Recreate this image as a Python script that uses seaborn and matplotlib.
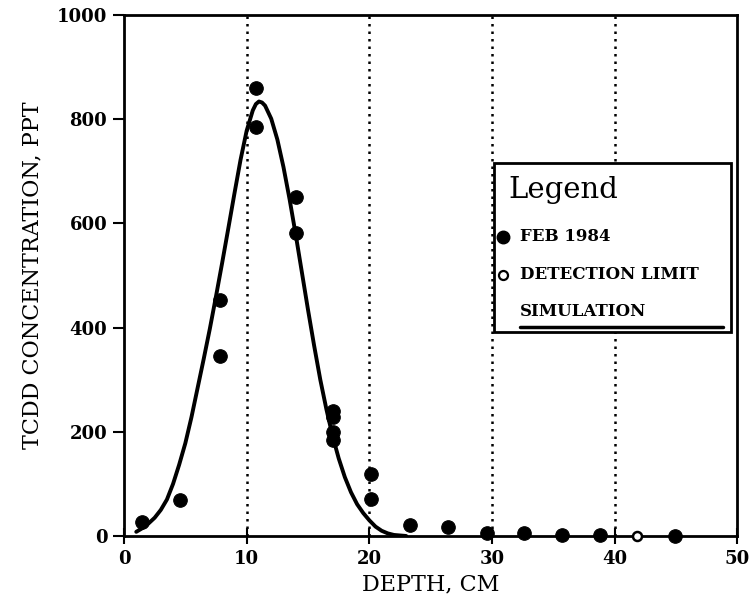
import seaborn as sns
import pandas as pd
import numpy as np
import matplotlib.pyplot as plt
from matplotlib.patches import Rectangle

# Measured TCDD, Feb 1984
feb_depth = [1.5, 4.6, 7.8, 7.8, 10.8, 10.8, 14.0, 14.0, 17.0, 17.0, 17.0, 17.0,
             20.1, 20.1, 23.3, 26.4, 29.6, 32.6, 35.7, 38.8, 44.9]
feb_conc = [27, 69, 452, 346, 860, 785, 650, 581, 240, 228, 200, 185,
            119, 71, 21, 18, 6, 5, 2, 2, 0]

# Detection limit sample
det_depth = [41.8]
det_conc = [0]

# Simulation curve
sim_depth = [1.0, 1.5, 2.0, 2.5, 3.0, 3.5, 4.0, 4.5, 5.0, 5.5, 6.0, 6.5, 7.0, 7.5,
             8.0, 8.5, 9.0, 9.5, 10.0, 10.5, 10.75, 11.0, 11.25, 11.5, 12.0, 12.5,
             13.0, 13.5, 14.0, 14.5, 15.0, 15.5, 16.0, 16.5, 17.0, 17.5, 18.0,
             18.5, 19.0, 19.5, 20.0, 20.5, 21.0, 21.5, 22.0, 22.5, 23.0]
sim_conc = [8, 15, 24, 35, 50, 70, 100, 137, 178, 228, 284, 340, 398, 460,
            524, 590, 657, 722, 778, 817, 829, 834, 832, 826, 801, 761,
            708, 646, 578, 506, 434, 365, 300, 243, 192, 149, 113,
            84, 61, 44, 30, 18, 10, 5, 2, 1, 0]

feb = pd.DataFrame({"depth": feb_depth, "conc": feb_conc})
det = pd.DataFrame({"depth": det_depth, "conc": det_conc})
sim = pd.DataFrame({"depth": sim_depth, "conc": sim_conc})

sns.set_style("ticks")
plt.rcParams['font.family'] = ['DejaVu Serif']
plt.rcParams['text.color'] = 'black'
plt.rcParams['axes.labelcolor'] = 'black'
plt.rcParams['xtick.color'] = 'black'
plt.rcParams['ytick.color'] = 'black'

fig = plt.figure(figsize=(7.5, 6.12), dpi=100)
ax = fig.add_axes([0.1653, 0.1242, 0.8180, 0.8513])

for x in [10, 20, 30, 40]:
    ax.axvline(x, color='black', linestyle=(0, (1, 2)), linewidth=1.8, zorder=1)

sns.lineplot(data=sim, x="depth", y="conc", ax=ax, color='black', linewidth=2.8,
             zorder=3, solid_joinstyle='round', solid_capstyle='round')
sns.scatterplot(data=feb, x="depth", y="conc", ax=ax, color='black', s=95,
                edgecolor='black', zorder=4, clip_on=False)
sns.scatterplot(data=det, x="depth", y="conc", ax=ax, facecolor='white', s=42,
                edgecolor='black', linewidth=1.8, zorder=4, clip_on=False)

ax.set_xlim(0, 50)
ax.set_ylim(0, 1000)
ax.set_xticks([0, 10, 20, 30, 40, 50])
ax.set_yticks([0, 200, 400, 600, 800, 1000])
ax.tick_params(axis='x', direction='inout', length=12, width=1.5, labelsize=13, pad=4)
ax.tick_params(axis='y', direction='out', length=8, width=1.5, labelsize=13, pad=4)
for lab in ax.get_xticklabels() + ax.get_yticklabels():
    lab.set_fontweight('bold')
for sp in ax.spines.values():
    sp.set_linewidth(2)
    sp.set_color('black')

ax.set_xlabel("DEPTH, CM", fontsize=16, labelpad=4)
ax.set_ylabel("TCDD CONCENTRATION, PPT", fontsize=16, labelpad=10)

# Legend box drawn by hand
ax.add_patch(Rectangle((0.603, 0.392), 0.386, 0.324, transform=ax.transAxes,
                       facecolor='white', edgecolor='black', linewidth=2, zorder=5))
ax.text(0.627, 0.665, "Legend", transform=ax.transAxes, fontsize=21,
        va='center', ha='left', zorder=6)
ax.plot([0.618], [0.574], transform=ax.transAxes, marker='o', markersize=9,
        color='black', zorder=6, clip_on=False)
ax.text(0.645, 0.574, "FEB 1984", transform=ax.transAxes, fontsize=12,
        fontweight='bold', va='center', ha='left', zorder=6)
ax.plot([0.618], [0.501], transform=ax.transAxes, marker='o', markersize=6.5,
        markerfacecolor='white', markeredgecolor='black', markeredgewidth=1.6,
        zorder=6, clip_on=False)
ax.text(0.645, 0.501, "DETECTION LIMIT", transform=ax.transAxes, fontsize=12,
        fontweight='bold', va='center', ha='left', zorder=6)
ax.text(0.645, 0.430, "SIMULATION", transform=ax.transAxes, fontsize=12,
        fontweight='bold', va='center', ha='left', zorder=6)
ax.plot([0.645, 0.977], [0.402, 0.402], transform=ax.transAxes, color='black',
        linewidth=2.5, zorder=6)

fig.savefig("out.png", dpi=100)
